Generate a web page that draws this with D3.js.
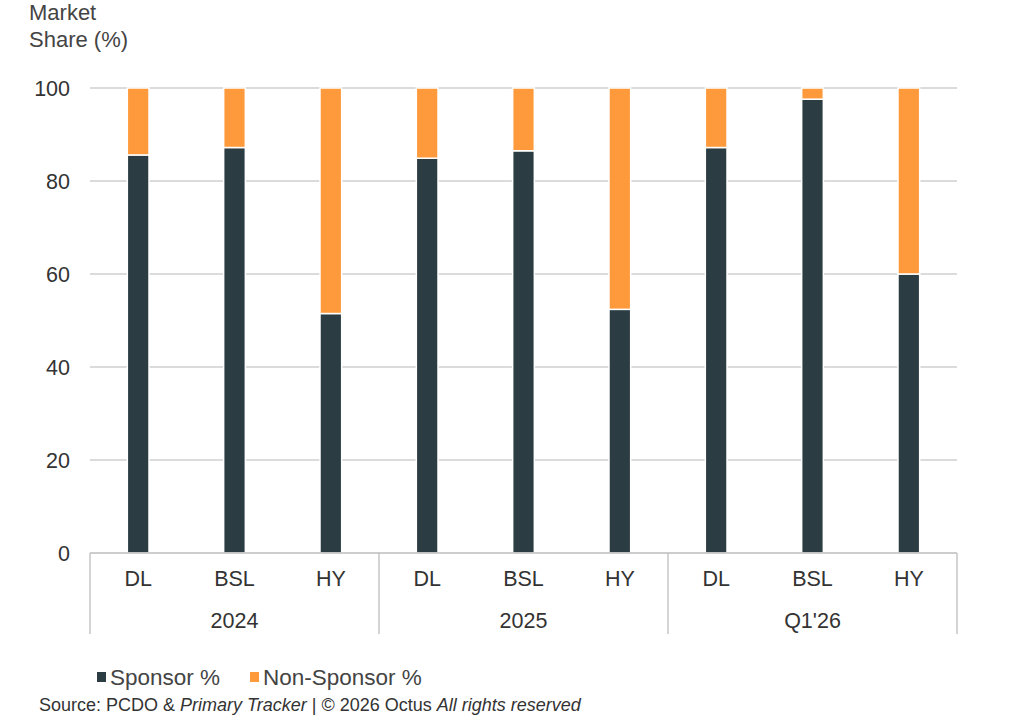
<!DOCTYPE html>
<html><head><meta charset="utf-8">
<script src="https://cdn.jsdelivr.net/npm/d3@7"></script>
<style>body{margin:0;background:#fff}svg{display:block}text{font-family:"Liberation Sans",Arial,sans-serif}</style>
</head><body><svg id="c" width="1024" height="716"></svg>
<script>
const groups = ["2024","2025","Q1'26"];
const categories = ["DL","BSL","HY"];
const sponsor = [85.6,87.2,51.5, 84.9,86.5,52.4, 87.2,97.6,60.0];
const yTicks = [0,20,40,60,80,100];
const seriesNames = ["Sponsor %","Non-Sponsor %"];
const colors = ["#2c3c43","#ff9a3c"];

const rows = [];
groups.forEach((g,gi)=>categories.forEach((c,ci)=>{
  const s = sponsor[gi*3+ci];
  rows.push({key:g+"|"+c, group:g, cat:c, sponsor:s, non:100-s});
}));

const svg = d3.select("#c");
const L=90,R=957,T=88,B=553;
const x = d3.scaleBand().domain(rows.map(d=>d.key)).range([L,R]).paddingInner(0.775).paddingOuter(0.3875);
const xg = d3.scaleBand().domain(groups).range([L,R]);
const y = d3.scaleLinear().domain([0,100]).range([B,T]);

// gridlines
svg.append("g").selectAll("line").data(yTicks.filter(t=>t>0)).join("line")
  .attr("x1",L).attr("x2",R).attr("y1",d=>y(d)).attr("y2",d=>y(d))
  .attr("stroke","#cfcfcf").attr("stroke-width",1.3);

// y labels
svg.append("g").selectAll("text").data(yTicks).join("text")
  .attr("x",70).attr("y",d=>y(d)+7.5).attr("text-anchor","end")
  .attr("font-size",21.5).attr("fill","#333").text(d=>d);

// stacks
const stack = d3.stack().keys(["sponsor","non"])(rows);
svg.append("g").selectAll("g").data(stack).join("g").attr("fill",(d,i)=>colors[i])
  .selectAll("rect").data(d=>d).join("rect")
  .attr("x",d=>x(d.data.key)).attr("width",x.bandwidth())
  .attr("y",d=>y(d[1])).attr("height",d=>y(d[0])-y(d[1]))
  .attr("stroke","#fff").attr("stroke-width",1.5);

// x axis line
svg.append("line").attr("x1",L).attr("x2",R).attr("y1",B).attr("y2",B).attr("stroke","#bdbdbd").attr("stroke-width",1.3);
// group separators
const seps = groups.map(g=>xg(g)).concat([R]);
svg.append("g").selectAll("line").data(seps).join("line")
  .attr("x1",d=>d).attr("x2",d=>d).attr("y1",B).attr("y2",634)
  .attr("stroke","#bdbdbd").attr("stroke-width",1.3);

// category labels
svg.append("g").selectAll("text").data(rows).join("text")
  .attr("x",d=>x(d.key)+x.bandwidth()/2).attr("y",586).attr("text-anchor","middle")
  .attr("font-size",21.5).attr("fill","#333").text(d=>d.cat);
// group labels
svg.append("g").selectAll("text").data(groups).join("text")
  .attr("x",d=>xg(d)+xg.bandwidth()/2).attr("y",628).attr("text-anchor","middle")
  .attr("font-size",21.5).attr("fill","#333").text(d=>d);

// y title
svg.append("text").attr("x",29).attr("y",20).attr("font-size",22).attr("fill","#444").text("Market");
svg.append("text").attr("x",29).attr("y",47).attr("font-size",22).attr("fill","#444").text("Share (%)");

// legend
const leg = svg.append("g");
const lx = [97, 250];
seriesNames.forEach((n,i)=>{
  leg.append("rect").attr("x",lx[i]).attr("y",672).attr("width",9).attr("height",10).attr("fill",colors[i]);
  leg.append("text").attr("x",lx[i]+13).attr("y",685).attr("font-size",22.5).attr("fill","#444").text(n);
});

// source
svg.append("text").attr("x",39).attr("y",711).attr("font-size",18).attr("fill","#333")
  .html('Source: PCDO &amp; <tspan font-style="italic">Primary Tracker</tspan> | © 2026 Octus <tspan font-style="italic">All rights reserved</tspan>');
</script></body></html>
